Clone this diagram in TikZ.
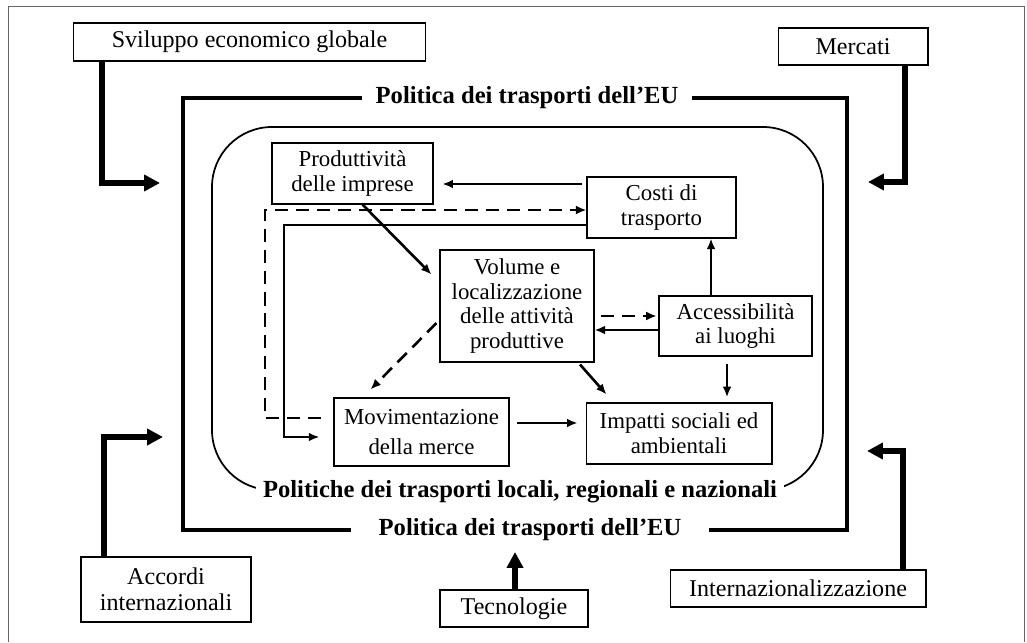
\documentclass[tikz,border=0pt]{standalone}
\usepackage{fontspec}
\setmainfont{Liberation Serif}
\usetikzlibrary{arrows.meta, positioning, calc}

\begin{document}
\begin{tikzpicture}[
  x=0.02cm, y=-0.02cm,
  factor/.style={rectangle, draw, line width=0.6pt, fill=white, align=center, inner sep=2pt, font=\fontsize{13.7}{15}\selectfont},
  block/.style={rectangle, draw, line width=0.6pt, fill=white, align=center, inner sep=2pt, font=\fontsize{13}{14.2}\selectfont},
  policy/.style={font=\bfseries\fontsize{14}{16}\selectfont, fill=white, inner ysep=2pt},
  frame/.style={line width=1.8pt},
  arrow/.style={-{Latex[length=6pt,width=5pt]}, line width=1.5pt},
  dasharrow/.style={arrow, dash pattern=on 7.5pt off 4.5pt},
  bigarrow/.style={-{Triangle[length=9pt,width=9pt]}, line width=3pt},
]
\useasboundingbox (0,0) rectangle (1027,642);
\draw[line width=0.5pt, gray!80!black] (8,642) -- (8,6) -- (1024,6) -- (1024,642);

% policy frames
\draw[frame] (183,98) rectangle (847,530);
\draw[line width=1pt, rounded corners=1.2cm] (212,127) rectangle (823,490);
\node[policy, inner xsep=8pt] (euTop) at (527,98) {Politica dei trasporti dell'EU};
\node[policy, inner xsep=16pt] (euBot) at (530,530) {Politica dei trasporti dell'EU};
\node[policy, inner xsep=4pt] (local) at (520,492) {Politiche dei trasporti locali, regionali e nazionali};

% external factors
\node[factor, minimum width=7.06cm, minimum height=0.76cm] (svil) at (249.5,42) {Sviluppo economico globale};
\node[factor, minimum width=3cm, minimum height=0.74cm] (merc) at (853,46.5) {Mercati};
\node[factor, minimum width=3.4cm, minimum height=1.3cm] (accordi) at (166,589.5) {Accordi\\internazionali};
\node[factor, minimum width=2.96cm, minimum height=0.74cm] (tec) at (514,608.5) {Tecnologie};
\node[factor, minimum width=5.12cm, minimum height=0.74cm] (intl) at (798,588.5) {Internazionalizzazione};

% inner blocks
\node[block, minimum width=3.22cm, minimum height=1.22cm] (prod) at (352.5,173.5) {Produttività\\delle imprese};
\node[block, minimum width=2.98cm, minimum height=1.22cm] (costi) at (661.5,207.5) {Costi di\\trasporto};
\node[block, minimum width=3.08cm, minimum height=2.24cm] (vol) at (517,306) {Volume e\\localizzazione\\delle attività\\produttive};
\node[block, minimum width=3.06cm, minimum height=1.2cm] (acc) at (735.5,326) {Accessibilità\\ai luoghi};
\node[block, minimum width=3.5cm, minimum height=1.36cm] (mov) at (421.5,432) {Movimentazione\\[3pt]della merce};
\node[block, minimum width=3.72cm, minimum height=1.22cm] (imp) at (679,433.5) {Impatti sociali ed\\ambientali};

% entry points on the frame
\coordinate (inNW) at (160,183);
\coordinate (inNE) at (868,182);
\coordinate (inSW) at (163,437);
\coordinate (inSE) at (867,451);
\coordinate (inS) at (515,552);

\draw[bigarrow] (svil.south -| 102,0) |- (inNW);
\draw[bigarrow] (merc.south -| 905,0) |- (inNE);
\draw[bigarrow] (accordi.north -| 104,0) |- (inSW);
\draw[bigarrow] (intl.north -| 903,0) |- (inSE);
\draw[bigarrow] (tec.north -| inS) -- (inS);

\draw[arrow, shorten <=2.8pt, shorten >=5pt] (costi.west |- 0,184) -- (prod.east |- 0,184);
\draw[dasharrow, shorten <=7pt] (mov.west |- 0,418) -| (265,210) -- (costi.west |- 0,210);
\draw[arrow, shorten >=8pt] (costi.west |- 0,225) -| (284,437) -- (mov.west |- 0,437);
\draw[arrow] ($(prod.south)+(10,0)$) -- ($(vol.north west)+(-8,25)$);
\draw[dasharrow] ($(vol.west)+(-3,17)$) -- ($(mov.north)+(-51,-8)$);
\draw[arrow] ($(vol.south)+(63,2)$) -- ($(imp.north west)+(21,-8)$);
\draw[dasharrow, shorten <=3.5pt, shorten >=1pt] (vol.east |- 0,316) -- (acc.west |- 0,316);
\draw[arrow] (acc.west |- 0,330) -- (vol.east |- 0,330);
\draw[arrow] (acc.north -| 711,0) -- (costi.south -| 711,0);
\draw[arrow, shorten <=4pt, shorten >=3pt] (acc.south -| 727,0) -- (imp.north -| 727,0);
\draw[arrow, shorten <=4.5pt, shorten >=4.5pt] (mov.east |- 0,423) -- (imp.west |- 0,423);
\end{tikzpicture}
\end{document}
